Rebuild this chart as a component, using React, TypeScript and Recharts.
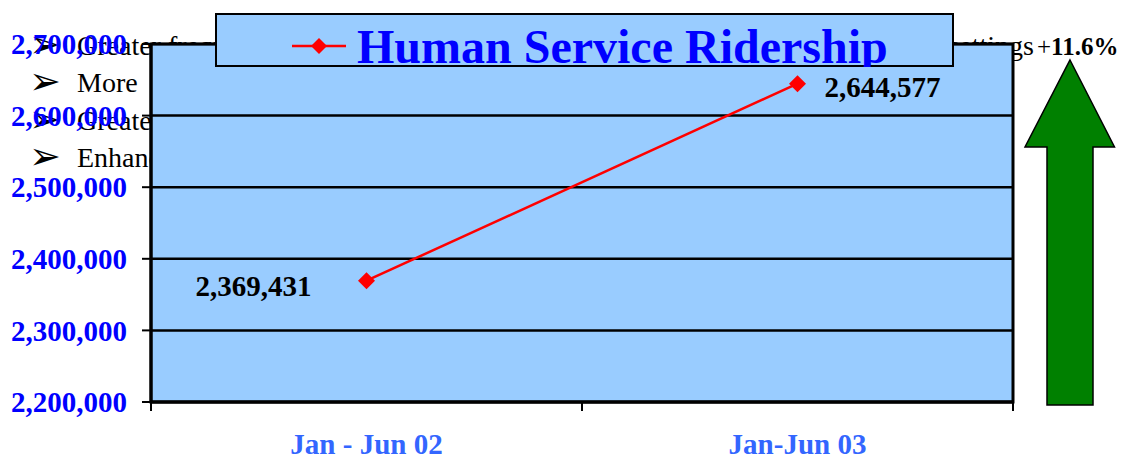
import React from 'react'
import {
  LineChart,
  Line,
  XAxis,
  YAxis,
  CartesianGrid,
  ReferenceArea,
  LabelList,
  Legend,
} from 'recharts'

const periods = ['Jan - Jun 02', 'Jan-Jun 03']
const riders = [2369431, 2644577]
const yTicks = [2200000, 2300000, 2400000, 2500000, 2600000, 2700000]
const seriesName = 'Human Service Ridership'
const slideLines = ['Greater frequency of service', 'More', 'Greater', 'Enhanced']
const slideTail = 'in more settings'

const data = periods.map((period, i) => ({ period, riders: riders[i] }))
const change = ((riders[1] / riders[0] - 1) * 100).toFixed(1) + '%'

const serif = '"Liberation Serif", "Times New Roman", serif'
const fmt = (v: number) => Number(v).toLocaleString('en-US')

function diamond(cx: number, cy: number, r: number) {
  return `${cx},${cy - r} ${cx + r},${cy} ${cx},${cy + r} ${cx - r},${cy}`
}

function Dot(props: any) {
  const { cx, cy } = props
  if (cx == null || cy == null) return null
  return <polygon points={diamond(cx, cy, 8.5)} fill="#FF0000" />
}

function XTick(props: any) {
  const { x, y, payload, index, visibleTicksCount } = props
  const half = payload?.offset ?? 0
  const axisY = y - 31
  const last = index === visibleTicksCount - 1
  return (
    <g>
      <line x1={x - half} x2={x - half} y1={axisY} y2={axisY + 9} stroke="#000" strokeWidth={2} />
      {last && <line x1={x + half} x2={x + half} y1={axisY} y2={axisY + 9} stroke="#000" strokeWidth={2} />}
      <text
        x={x}
        y={y}
        dy="0.71em"
        textAnchor="middle"
        fill="#3366FF"
        fontSize={29}
        fontWeight="bold"
        fontFamily={serif}
      >
        {payload.value}
      </text>
    </g>
  )
}

function PointLabel(props: any) {
  const { index, value } = props
  const x = props.x ?? props.viewBox?.x
  const y = props.y ?? props.viewBox?.y
  const first = index === 0
  return (
    <text
      x={first ? x - 55 : x + 27}
      y={y + (first ? 15 : 13)}
      textAnchor={first ? 'end' : 'start'}
      fill="#000"
      fontSize={29}
      fontWeight="bold"
      fontFamily={serif}
    >
      {fmt(value)}
    </text>
  )
}

function LegendBox(props: any) {
  const item = props.payload?.[0]
  return (
    <svg width={739} height={54} style={{ display: 'block' }}>
      <rect x={1} y={1} width={737} height={52} fill="#99CCFF" stroke="#000" strokeWidth={2} />
      <line x1={77} x2={131} y1={33} y2={33} stroke="#FF0000" strokeWidth={2.5} />
      <polygon points={diamond(104, 33, 8)} fill="#FF0000" />
      <text x={142} y={50} fill="#0000FF" fontSize={48} fontWeight="bold" fontFamily={serif}>
        {item?.value ?? seriesName}
      </text>
    </svg>
  )
}

export default function App() {
  return (
    <div style={{ position: 'absolute', left: 0, top: 0, width: 1121, height: 456, background: '#fff' }}>
      <svg width={1121} height={456} style={{ position: 'absolute', left: 0, top: 0 }}>
        {slideLines.map((t, i) => (
          <g key={t}>
            <text x={29} y={57 + i * 37.3} fontSize={38} fontFamily='"DejaVu Sans", sans-serif' fill="#000">
              ➢
            </text>
            <text x={77} y={55 + i * 37.3} fontSize={28} fontFamily={serif} fill="#000">
              {t}
            </text>
          </g>
        ))}
        <text x={1034} y={55} textAnchor="end" fontSize={28} fontFamily={serif} fill="#000">
          {slideTail}
        </text>
        <text x={1037} y={55} fontSize={25} fontFamily={serif} fill="#000">
          <tspan>+</tspan>
          <tspan fontWeight="bold">{change}</tspan>
        </text>
        <polygon
          points="1070,60 1114.5,147 1093,147 1093,405 1047,405 1047,147 1025,147"
          fill="#008000"
          stroke="#000"
          strokeWidth={1.5}
        />
      </svg>
      <LineChart
        width={1121}
        height={456}
        data={data}
        margin={{ top: 44, right: 108, bottom: 0, left: 0 }}
        style={{ position: 'absolute', left: 0, top: 0 }}
      >
        <CartesianGrid vertical={false} stroke="#000" strokeWidth={2.5} fill="#99CCFF" fillOpacity={1} />
        <XAxis
          dataKey="period"
          scale="band"
          height={54}
          tickSize={9}
          tickMargin={22}
          tickLine={false}
          axisLine={{ stroke: '#000', strokeWidth: 3 }}
          tick={<XTick />}
        />
        <YAxis
          domain={[2200000, 2700000]}
          ticks={yTicks}
          width={151}
          tickSize={9}
          tickMargin={15}
          tickFormatter={fmt}
          axisLine={{ stroke: '#000', strokeWidth: 3 }}
          tickLine={{ stroke: '#000', strokeWidth: 2 }}
          tick={{ fill: '#0000FF', fontSize: 29, fontWeight: 'bold', fontFamily: serif }}
        />
        <ReferenceArea
          y1={2200000}
          y2={2700000}
          fill="none"
          stroke="#000"
          strokeWidth={3}
          ifOverflow="visible"
        />
        <Line
          dataKey="riders"
          name={seriesName}
          stroke="#FF0000"
          strokeWidth={2.5}
          dot={<Dot />}
          activeDot={false}
          isAnimationActive={false}
        >
          <LabelList dataKey="riders" content={<PointLabel />} />
        </Line>
        <Legend
          layout="vertical"
          align="center"
          verticalAlign="middle"
          wrapperStyle={{ left: 215, top: 13, width: 739, height: 54 }}
          content={<LegendBox />}
        />
      </LineChart>
    </div>
  )
}
